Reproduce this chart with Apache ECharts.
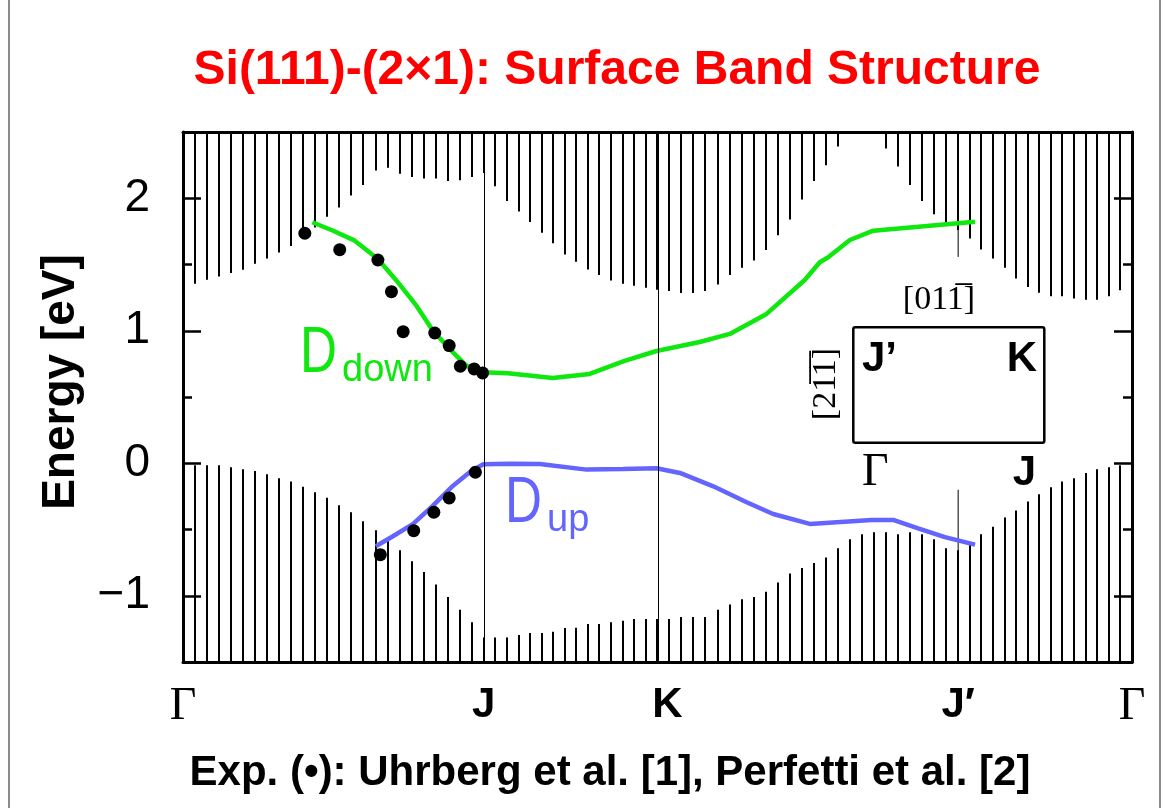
<!DOCTYPE html>
<html>
<head>
<meta charset="utf-8">
<script src="https://cdn.jsdelivr.net/npm/echarts@6/dist/echarts.min.js"></script>
<style>
  html, body { margin: 0; padding: 0; background: #fff; }
  #chart { width: 1166px; height: 808px; }
</style>
</head>
<body>
<div id="chart"></div>
<script>
// high-symmetry points along the path, k in units of |ΓJ|
var K_LABELS = ['Γ', 'J', 'K', 'J′', 'Γ'];
var K_TICKS = [0, 1, 1.577, 2.577, 3.155];
// number of k-steps used for the bulk projection on each segment
var SEG_STEPS = [25, 15, 25, 15];

var E_MIN = -1.5, E_MAX = 2.5;
var E_TICKS = [-1, 0, 1, 2];

// projected bulk bands: lower edge of conduction continuum (null = above window)
var CBM = [
  1.33, 1.355, 1.385, 1.41, 1.435, 1.46, 1.505, 1.546, 1.59, 1.64,
  1.71, 1.78, 1.86, 1.93, 2.02, 2.10, 2.21, 2.23, 2.185, 2.16,
  2.15, 2.15, 2.13, 2.135, 2.16, 2.19,
  2.09, 1.98, 1.90, 1.82, 1.74, 1.66, 1.576, 1.52, 1.463, 1.42,
  1.38, 1.355, 1.34, 1.325, 1.31,
  1.30, 1.285, 1.285, 1.30, 1.35, 1.42, 1.476, 1.53, 1.61, 1.72,
  1.84, 1.99, 2.13, 2.25, 2.39, null, null, null, 2.375, 2.24,
  2.10, 1.98, 1.88, 1.815, 1.76,
  1.697, 1.614, 1.546, 1.476, 1.395, 1.33, 1.287, 1.26, 1.26, 1.244,
  1.234, 1.234, 1.26, 1.305, 1.33
];
// upper edge of valence continuum
var VBM = [
  0.0, -0.015, -0.015, -0.015, -0.03, -0.045, -0.058, -0.083, -0.113, -0.138,
  -0.178, -0.219, -0.261, -0.317, -0.37, -0.437, -0.505, -0.573, -0.656, -0.739,
  -0.82, -0.915, -1.01, -1.106, -1.20, -1.315,
  -1.315, -1.315, -1.297, -1.282, -1.282, -1.272, -1.244, -1.242, -1.214, -1.214,
  -1.20, -1.189, -1.176, -1.176, -1.176,
  -1.176, -1.161, -1.161, -1.161, -1.106, -1.066, -1.026, -1.01, -0.97, -0.90,
  -0.832, -0.79, -0.752, -0.711, -0.641, -0.573, -0.535, -0.52, -0.52, -0.535,
  -0.52, -0.535, -0.573, -0.641, -0.656,
  -0.606, -0.535, -0.48, -0.41, -0.357, -0.289, -0.234, -0.181, -0.138, -0.113,
  -0.073, -0.045, -0.03, -0.015, 0.0
];

// dangling-bond surface states
var DDOWN_K = [0.430, 0.499, 0.571, 0.648, 0.710, 0.776, 0.831, 0.887, 0.942, 0.998,
  1.080, 1.229, 1.352, 1.468, 1.574, 1.718, 1.818, 1.879, 1.940, 2.067,
  2.117, 2.145, 2.217, 2.295, 2.633];
var DDOWN_E = [1.819, 1.755, 1.68, 1.542, 1.378, 1.189, 1.00, 0.862, 0.737, 0.687,
  0.679, 0.643, 0.674, 0.772, 0.847, 0.915, 0.976, 1.051, 1.127, 1.383,
  1.517, 1.555, 1.685, 1.755, 1.823];
var DUP_K = [0.641, 0.698, 0.765, 0.831, 0.898, 0.953, 0.998, 1.086, 1.186, 1.342,
  1.463, 1.574, 1.652, 1.763, 1.874, 1.962, 2.084, 2.289, 2.361, 2.444,
  2.533, 2.633];
var DUP_E = [-0.626, -0.551, -0.458, -0.32, -0.169, -0.068, -0.008, -0.003, -0.005, -0.048,
  -0.043, -0.038, -0.073, -0.174, -0.294, -0.383, -0.458, -0.428, -0.428, -0.491,
  -0.558, -0.614];

// ARPES points (Uhrberg, Perfetti)
var EXP_K = [0.405, 0.521, 0.648, 0.693, 0.732, 0.837, 0.885, 0.922, 0.968, 0.996,
  0.656, 0.767, 0.834, 0.885, 0.972];
var EXP_E = [1.736, 1.612, 1.534, 1.295, 0.993, 0.983, 0.888, 0.732, 0.712, 0.682,
  -0.69, -0.509, -0.37, -0.262, -0.068];

// J' line is hidden behind the inset between these energies
var JP_GAP = [-0.2, 1.557];

var SANS = '"Liberation Sans", Arial, sans-serif';
var SERIF = '"Liberation Serif", "DejaVu Serif", serif';
var GREEN = '#0ee80e';
var BLUE = '#6464ff';

function zip(a, b) { return a.map(function (v, i) { return [v, b[i]]; }); }

// k of every bulk sampling point
var hatchK = [];
SEG_STEPS.forEach(function (n, s) {
  for (var j = 0; j < n; j++) hatchK.push(K_TICKS[s] + (K_TICKS[s + 1] - K_TICKS[s]) * j / n);
});
hatchK.push(K_TICKS[K_TICKS.length - 1]);

var upperHatch = [], lowerHatch = [];
hatchK.forEach(function (k, i) {
  if (CBM[i] != null) upperHatch.push([k, CBM[i], E_MAX]);
  lowerHatch.push([k, E_MIN, VBM[i]]);
});

function renderStick(params, api) {
  var p1 = api.coord([api.value(0), api.value(1)]);
  var p2 = api.coord([api.value(0), api.value(2)]);
  var x = Math.round(p1[0]);
  return {
    type: 'line',
    shape: { x1: x, y1: p1[1], x2: x, y2: p2[1] },
    style: { stroke: '#000', lineWidth: 2 }
  };
}

function yFmt(v) { return v < 0 ? '\u2212' + (-v) : String(v); }

function kFmt(v) {
  var best = 0;
  K_TICKS.forEach(function (t, i) { if (Math.abs(t - v) < Math.abs(K_TICKS[best] - v)) best = i; });
  var name = K_LABELS[best];
  if (name === 'Γ') return '{g|Γ}';
  if (name === 'K') return '{k|K}';
  return '{b|' + name + '}';
}

function yAxisPair(pos, withLabels) {
  return [{
    type: 'value', min: E_MIN, max: E_MAX, interval: 0.5, position: pos,
    axisLine: { show: true, onZero: false, lineStyle: { color: '#000', width: 3 } },
    axisTick: { show: true, inside: true, length: 9, lineStyle: { color: '#000', width: 2.5 } },
    axisLabel: withLabels ? {
      show: true, customValues: E_TICKS, formatter: yFmt, margin: 33,
      color: '#000', fontSize: 46, fontFamily: SANS
    } : { show: false },
    splitLine: { show: false }
  }, {
    type: 'value', min: E_MIN, max: E_MAX, interval: 0.5, position: pos,
    axisLine: { show: false, onZero: false },
    axisTick: { show: true, inside: true, length: 18, customValues: E_TICKS, lineStyle: { color: '#000', width: 2.5 } },
    axisLabel: { show: false },
    splitLine: { show: false }
  }];
}

var chart = echarts.init(document.getElementById('chart'));

var option = {
  backgroundColor: '#fff',
  animation: false,
  title: {
    text: 'Si(111)-(2×1): Surface Band Structure',
    left: 612, top: 42, textAlign: 'center',
    textStyle: { color: '#ff0000', fontSize: 48, fontWeight: 'bold', fontFamily: SANS }
  },
  grid: { left: 183, right: 34, top: 132, bottom: 146 },
  xAxis: [{
    type: 'value', min: K_TICKS[0], max: K_TICKS[4], position: 'bottom',
    axisLine: { show: true, onZero: false, lineStyle: { color: '#000', width: 3 } },
    axisTick: { show: false },
    axisLabel: {
      show: true, customValues: K_TICKS, formatter: kFmt, margin: 22,
      rich: {
        g: { fontFamily: SERIF, fontSize: 46, color: '#000' },
        b: { fontFamily: SANS, fontSize: 42, fontWeight: 'bold', color: '#000' },
        k: { fontFamily: SANS, fontSize: 42, fontWeight: 'bold', color: '#000', padding: [0, 0, 0, 20] }
      }
    },
    splitLine: { show: false }
  }, {
    type: 'value', min: K_TICKS[0], max: K_TICKS[4], position: 'top',
    axisLine: { show: true, onZero: false, lineStyle: { color: '#000', width: 3 } },
    axisTick: { show: false }, axisLabel: { show: false }, splitLine: { show: false }
  }],
  yAxis: yAxisPair('left', true).concat(yAxisPair('right', false)),
  series: [{
    name: 'bulk conduction', type: 'custom', renderItem: renderStick,
    data: upperHatch, encode: { x: 0, y: [1, 2] }, clip: true, silent: true, z: 1,
    markLine: {
      silent: true, symbol: ['none', 'none'], label: { show: false },
      lineStyle: { color: '#000', width: 1, type: 'solid' },
      data: [{ xAxis: K_TICKS[1] }, { xAxis: K_TICKS[2] }]
    }
  }, {
    name: 'bulk valence', type: 'custom', renderItem: renderStick,
    data: lowerHatch, encode: { x: 0, y: [1, 2] }, clip: true, silent: true, z: 1
  }, {
    name: 'J prime', type: 'line', symbol: 'none', silent: true, z: 1,
    lineStyle: { color: '#000', width: 1 },
    data: [[K_TICKS[3], E_MAX], [K_TICKS[3], JP_GAP[1]], [K_TICKS[3], '-'],
      [K_TICKS[3], JP_GAP[0]], [K_TICKS[3], E_MIN]]
  }, {
    name: 'D down', type: 'line', symbol: 'none', z: 3,
    lineStyle: { color: GREEN, width: 4.5 },
    data: zip(DDOWN_K, DDOWN_E)
  }, {
    name: 'D up', type: 'line', symbol: 'none', z: 3,
    lineStyle: { color: BLUE, width: 4.5 },
    data: zip(DUP_K, DUP_E)
  }, {
    name: 'Exp', type: 'scatter', symbol: 'circle', symbolSize: 13, z: 4,
    itemStyle: { color: '#000', opacity: 1 },
    data: zip(EXP_K, EXP_E)
  }],
  graphic: [
    // page frame
    { type: 'rect', shape: { x: 9, y: -5, width: 1151, height: 830 },
      style: { fill: 'none', stroke: '#666', lineWidth: 1.5 }, silent: true },
    { type: 'text', x: 61, y: 382, rotation: Math.PI / 2,
      style: { text: 'Energy [eV]', font: 'bold 46px ' + SANS, fill: '#000', align: 'center', verticalAlign: 'middle' } },
    { type: 'text', x: 300, y: 354.5, scaleX: 0.8, z: 10,
      style: { text: 'D', font: '64px ' + SANS, fill: GREEN, align: 'left', verticalAlign: 'middle' } },
    { type: 'text', x: 342, y: 371, z: 10,
      style: { text: 'down', font: '38px ' + SANS, fill: GREEN, align: 'left', verticalAlign: 'middle' } },
    { type: 'text', x: 505, y: 504, scaleX: 0.8, z: 10,
      style: { text: 'D', font: '64px ' + SANS, fill: BLUE, align: 'left', verticalAlign: 'middle' } },
    { type: 'text', x: 547, y: 521, z: 10,
      style: { text: 'up', font: '38px ' + SANS, fill: BLUE, align: 'left', verticalAlign: 'middle' } },
    // surface Brillouin zone inset
    { type: 'rect', shape: { x: 853.3, y: 327.3, width: 191, height: 115.4, r: 2 },
      style: { fill: 'none', stroke: '#000', lineWidth: 2.5 }, z: 10 },
    { type: 'text', x: 939, y: 300, z: 10,
      style: { text: '[011\u0305]', font: '34px ' + SERIF, fill: '#000', align: 'center', verticalAlign: 'middle' } },
    { type: 'text', x: 826, y: 384, rotation: Math.PI / 2, z: 10,
      style: { text: '[21\u03051\u0305]', font: '34px ' + SERIF, fill: '#000', align: 'center', verticalAlign: 'middle' } },
    { type: 'text', x: 862, y: 359.5, z: 10,
      style: { text: 'J’', font: 'bold 42px ' + SANS, fill: '#000', align: 'left', verticalAlign: 'middle' } },
    { type: 'text', x: 1037, y: 359.5, z: 10,
      style: { text: 'K', font: 'bold 42px ' + SANS, fill: '#000', align: 'right', verticalAlign: 'middle' } },
    { type: 'text', x: 862, y: 473, z: 10,
      style: { text: 'Γ', font: '46px ' + SERIF, fill: '#000', align: 'left', verticalAlign: 'middle' } },
    { type: 'text', x: 1036, y: 473, z: 10,
      style: { text: 'J', font: 'bold 42px ' + SANS, fill: '#000', align: 'right', verticalAlign: 'middle' } },
    { type: 'text', x: 610, y: 773.5,
      style: { text: 'Exp. (•): Uhrberg et al. [1], Perfetti et al. [2]', font: 'bold 42px ' + SANS,
        fill: '#000', align: 'center', verticalAlign: 'middle' } }
  ]
};

chart.setOption(option);
</script>
</body>
</html>
